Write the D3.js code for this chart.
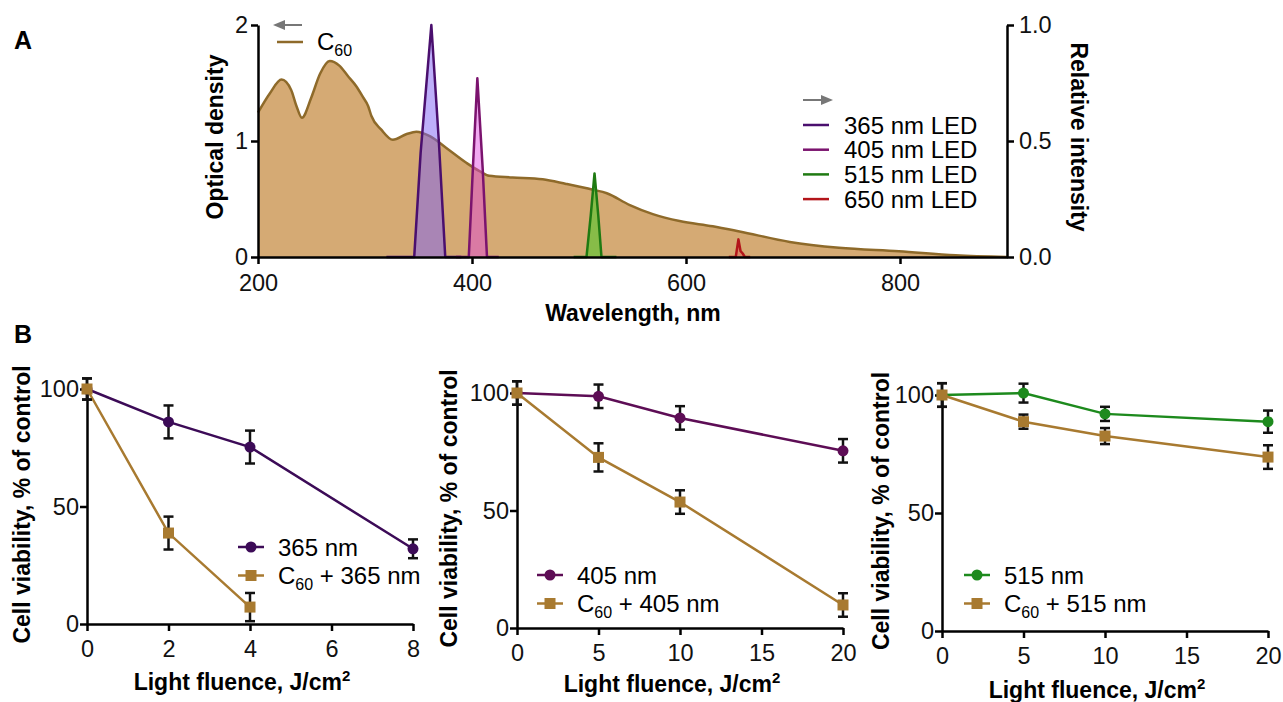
<!DOCTYPE html>
<html>
<head>
<meta charset="utf-8">
<script src="https://cdn.jsdelivr.net/npm/d3@7"></script>
<style>
    body { margin: 0; background: #fff; }
    svg { font-family: "Liberation Sans", Arial, sans-serif; }
</style>
</head>
<body>
<script>
// ---- Panel A data ----
const c60Wavelength = [200, 211, 222, 231, 236, 241, 250, 258, 267, 276, 284, 292, 298, 303, 306, 315, 326, 339, 348, 361, 376, 395, 407, 416, 438, 466, 488, 513, 526, 547, 569, 594, 625, 650, 697, 743, 799, 852, 900]
const c60Density = [1.245, 1.41, 1.53, 1.44, 1.30, 1.20, 1.38, 1.58, 1.69, 1.65, 1.56, 1.47, 1.38, 1.30, 1.215, 1.10, 1.01, 1.06, 1.08, 1.04, 0.94, 0.81, 0.74, 0.70, 0.686, 0.67, 0.63, 0.58, 0.55, 0.45, 0.37, 0.31, 0.265, 0.22, 0.13, 0.08, 0.05, 0.015, 0]

const ledNames = ["365 nm LED", "405 nm LED", "515 nm LED", "650 nm LED"]
const ledWavelength365 = [320, 346, 352, 362, 369, 375, 390]
const ledIntensity365 = [0, 0, 0.45, 1.0, 0.5, 0, 0]
const ledWavelength405 = [385, 397, 401, 405, 410, 414, 425]
const ledIntensity405 = [0, 0, 0.4, 0.77, 0.38, 0, 0]
const ledWavelength515 = [495, 507, 511, 514.5, 518, 521, 535]
const ledIntensity515 = [0, 0, 0.18, 0.36, 0.18, 0, 0]
const ledWavelength650 = [640, 646.5, 649, 651, 653, 655, 660]
const ledIntensity650 = [0, 0, 0.076, 0.025, 0.015, 0, 0]

// ---- Panel B data ----
const fluence365 = [0, 2, 4, 8]
const viability365 = [100, 86, 75.3, 32]
const error365 = [4.5, 7, 7, 4]
const fluenceC60365 = [0, 2, 4]
const viabilityC60365 = [100, 38.7, 7.2]
const errorC60365 = [4.5, 7, 6]

const fluence405 = [0, 5, 10, 20]
const viability405 = [100, 98.6, 89.4, 75.4]
const error405 = [5, 5, 5, 5]
const viabilityC60405 = [100, 72.6, 53.6, 9.8]
const errorC60405 = [5, 6, 5, 5]

const fluence515 = [0, 5, 10, 20]
const viability515 = [100, 100.8, 92, 88.7]
const error515 = [5, 4, 3, 4.7]
const viabilityC60515 = [100, 88.7, 82.6, 73.7]
const errorC60515 = [5, 3, 3.4, 5]

const ticksB8 = [0, 2, 4, 6, 8]
const ticksB20 = [0, 5, 10, 15, 20]
const ticksViability = [0, 50, 100]

// Colours
const c60Line = "#8e6a2a"
const c60Fill = "#d5aa74"
const c60Marker = "#a87a30"

const width = 1283
const height = 702
const tickFont = 23.5
const legendFont = 24

let svg = d3.select("body")
    .append("svg")
    .attr("width", width)
    .attr("height", height)

// Helper for axis styling
let styleAxis = (g) => {
    g.attr("font-family", null).attr("font-size", null)
    g.select(".domain").attr("stroke", "#000").attr("stroke-width", 2.5)
    g.selectAll(".tick line").attr("stroke", "#000").attr("stroke-width", 2.5)
    g.selectAll(".tick text").style("font-size", tickFont + "px").attr("fill", "#111")
}

// Helper for C60 labels with subscript
let c60Text = (sel, rest) => {
    sel.append("tspan").text("C")
    sel.append("tspan").text("60").style("font-size", "16px").attr("dy", 6)
    if (rest) sel.append("tspan").text(rest).attr("dy", -6)
}

// ================= Panel A =================
let xA = d3.scaleLinear().domain([200, 900]).range([258, 1007])
let yA = d3.scaleLinear().domain([0, 2]).range([257, 25])
let yA2 = d3.scaleLinear().domain([0, 1]).range([257, 25])

// C60 absorption area
let c60Data = c60Wavelength.map((w, i) => ({ w: w, v: c60Density[i] }))
svg.append("path")
    .datum(c60Data)
    .attr("d", d3.area()
        .x(d => xA(d.w))
        .y0(yA(0))
        .y1(d => yA(d.v))
        .curve(d3.curveMonotoneX))
    .attr("fill", c60Fill)
svg.append("path")
    .datum(c60Data)
    .attr("d", d3.line()
        .x(d => xA(d.w))
        .y(d => yA(d.v))
        .curve(d3.curveMonotoneX))
    .attr("fill", "none")
    .attr("stroke", c60Line)
    .attr("stroke-width", 2.5)

// LED spectra
const leds = [
    { w: ledWavelength365, v: ledIntensity365, stroke: "#4a0f6e", fill: "#7d5ff5", op: 0.5 },
    { w: ledWavelength405, v: ledIntensity405, stroke: "#7b136e", fill: "#e040e0", op: 0.45 },
    { w: ledWavelength515, v: ledIntensity515, stroke: "#1f7a12", fill: "#6cc23a", op: 0.75 },
    { w: ledWavelength650, v: ledIntensity650, stroke: "#b3151a", fill: "#e05050", op: 0.4 }
]
leds.forEach(led => {
    let pts = led.w.map((w, i) => ({ w: w, v: led.v[i] }))
    svg.append("path")
        .datum(pts)
        .attr("d", d3.area().x(d => xA(d.w)).y0(yA2(0)).y1(d => yA2(d.v)))
        .attr("fill", led.fill)
        .attr("fill-opacity", led.op)
    svg.append("path")
        .datum(pts)
        .attr("d", d3.line().x(d => xA(d.w)).y(d => yA2(d.v)))
        .attr("fill", "none")
        .attr("stroke", led.stroke)
        .attr("stroke-width", 2.5)
        .attr("stroke-linejoin", "round")
})

// Axes A
svg.append("g")
    .attr("transform", `translate(0, ${yA(0)})`)
    .call(d3.axisBottom(xA).tickValues([200, 400, 600, 800]).tickFormat(d3.format("d")).tickSize(7).tickSizeOuter(0).tickPadding(10))
    .call(styleAxis)
svg.append("g")
    .attr("transform", `translate(${xA(200)}, 0)`)
    .call(d3.axisLeft(yA).tickValues([0, 1, 2]).tickFormat(d3.format("d")).tickSize(7).tickSizeOuter(0).tickPadding(3))
    .call(styleAxis)
svg.append("g")
    .attr("transform", `translate(${xA(900)}, 0)`)
    .call(d3.axisRight(yA2).tickValues([0, 0.5, 1]).tickFormat(d3.format(".1f")).tickSize(7).tickSizeOuter(0).tickPadding(5))
    .call(styleAxis)

// Axis titles A
svg.append("text")
    .attr("transform", "translate(223, 137) rotate(-90)")
    .attr("text-anchor", "middle")
    .style("font-size", "23px").style("font-weight", "bold")
    .text("Optical density")
svg.append("text")
    .attr("transform", "translate(1071, 137) rotate(90)")
    .attr("text-anchor", "middle")
    .style("font-size", "23px").style("font-weight", "bold")
    .text("Relative intensity")
svg.append("text")
    .attr("x", 633).attr("y", 321)
    .attr("text-anchor", "middle")
    .style("font-size", "23px").style("font-weight", "bold")
    .text("Wavelength, nm")

// Panel letters
svg.append("text").attr("x", 14).attr("y", 49).style("font-size", "25px").style("font-weight", "bold").text("A")
svg.append("text").attr("x", 14).attr("y", 343).style("font-size", "25px").style("font-weight", "bold").text("B")

// Legend arrows
let arrow = (x1, x2, y) => {
    svg.append("line").attr("x1", x1).attr("x2", x2).attr("y1", y).attr("y2", y)
        .attr("stroke", "#777").attr("stroke-width", 2)
    let dir = x2 > x1 ? 1 : -1
    svg.append("path")
        .attr("d", `M${x2 + dir * 3},${y} L${x2 - dir * 9},${y - 5} L${x2 - dir * 9},${y + 5} Z`)
        .attr("fill", "#777")
}
arrow(302, 276, 25)
arrow(803, 830, 100)

// C60 legend
svg.append("line").attr("x1", 277).attr("x2", 303).attr("y1", 42).attr("y2", 42)
    .attr("stroke", c60Line).attr("stroke-width", 2.5)
svg.append("text").attr("x", 317).attr("y", 50).style("font-size", legendFont + "px").call(c60Text)

// LED legend
ledNames.forEach((name, i) => {
    let y = 125 + i * 24.7
    svg.append("line").attr("x1", 803).attr("x2", 829).attr("y1", y).attr("y2", y)
        .attr("stroke", leds[i].stroke).attr("stroke-width", 2.5)
    svg.append("text").attr("x", 844).attr("y", y + 8.5).style("font-size", legendFont + "px").text(name)
})

// ================= Panel B =================
let panelB = (cfg) => {
    let x = d3.scaleLinear().domain([0, cfg.xMax]).range([cfg.x0, cfg.x1])
    let y = d3.scaleLinear().domain([0, 100]).range([cfg.y0, cfg.y1])

    svg.append("g")
        .attr("transform", `translate(0, ${cfg.y0})`)
        .call(d3.axisBottom(x).tickValues(cfg.ticks).tickSize(7).tickSizeOuter(0).tickPadding(9))
        .call(styleAxis)
    svg.append("g")
        .attr("transform", `translate(${cfg.x0}, 0)`)
        .call(d3.axisLeft(y).tickValues(ticksViability).tickSize(7).tickSizeOuter(0).tickPadding(1))
        .call(styleAxis)

    cfg.series.forEach(s => {
        let pts = s.x.map((v, i) => ({ x: v, y: s.y[i], e: s.e[i] }))
        svg.append("path")
            .datum(pts)
            .attr("d", d3.line().x(d => x(d.x)).y(d => y(d.y)))
            .attr("fill", "none")
            .attr("stroke", s.color)
            .attr("stroke-width", 2.5)
        // error bars
        let eb = svg.selectAll(null).data(pts).enter().append("g")
        eb.append("line")
            .attr("x1", d => x(d.x)).attr("x2", d => x(d.x))
            .attr("y1", d => y(d.y - d.e)).attr("y2", d => y(d.y + d.e))
            .attr("stroke", "#111").attr("stroke-width", 2.5)
        eb.append("line")
            .attr("x1", d => x(d.x) - 5).attr("x2", d => x(d.x) + 5)
            .attr("y1", d => y(d.y - d.e)).attr("y2", d => y(d.y - d.e))
            .attr("stroke", "#111").attr("stroke-width", 2.5)
        eb.append("line")
            .attr("x1", d => x(d.x) - 5).attr("x2", d => x(d.x) + 5)
            .attr("y1", d => y(d.y + d.e)).attr("y2", d => y(d.y + d.e))
            .attr("stroke", "#111").attr("stroke-width", 2.5)
        // markers
        if (s.shape === "circle") {
            svg.selectAll(null).data(pts).enter().append("circle")
                .attr("cx", d => x(d.x)).attr("cy", d => y(d.y)).attr("r", 5.5)
                .attr("fill", s.color)
        } else {
            svg.selectAll(null).data(pts).enter().append("rect")
                .attr("x", d => x(d.x) - 5.5).attr("y", d => y(d.y) - 5.5)
                .attr("width", 11).attr("height", 11)
                .attr("fill", s.color)
        }
    })

    // legend
    cfg.series.forEach((s, i) => {
        let ly = cfg.legendY + i * 28.5
        svg.append("line").attr("x1", cfg.legendX).attr("x2", cfg.legendX + 26).attr("y1", ly).attr("y2", ly)
            .attr("stroke", s.color).attr("stroke-width", 2.5)
        if (s.shape === "circle") {
            svg.append("circle").attr("cx", cfg.legendX + 13).attr("cy", ly).attr("r", 5.5).attr("fill", s.color)
        } else {
            svg.append("rect").attr("x", cfg.legendX + 7.5).attr("y", ly - 5.5).attr("width", 11).attr("height", 11).attr("fill", s.color)
        }
        let t = svg.append("text").attr("x", cfg.legendX + 40).attr("y", ly + 8.5).style("font-size", legendFont + "px")
        if (s.c60) t.call(c60Text, " + " + s.label)
        else t.text(s.label)
    })

    // titles
    svg.append("text")
        .attr("transform", `translate(${cfg.yTitleX}, ${(cfg.y0 + cfg.y1) / 2 - 2}) rotate(-90)`)
        .attr("text-anchor", "middle")
        .style("font-size", "23px").style("font-weight", "bold")
        .text("Cell viability, % of control")
    let xt = svg.append("text")
        .attr("x", (cfg.x0 + cfg.x1) / 2 - 8).attr("y", cfg.xTitleY)
        .attr("text-anchor", "middle")
        .style("font-size", "23px").style("font-weight", "bold")
    xt.append("tspan").text("Light fluence, J/cm")
    xt.append("tspan").text("2").style("font-size", "15px").attr("dy", -9)
}

panelB({
    xMax: 8, ticks: ticksB8, x0: 87, x1: 413, y0: 624, y1: 389,
    legendX: 238, legendY: 547, yTitleX: 30, xTitleY: 690,
    series: [
        { x: fluence365, y: viability365, e: error365, color: "#3c0b57", shape: "circle", label: "365 nm" },
        { x: fluenceC60365, y: viabilityC60365, e: errorC60365, color: c60Marker, shape: "square", label: "365 nm", c60: true }
    ]
})
panelB({
    xMax: 20, ticks: ticksB20, x0: 517, x1: 843, y0: 628, y1: 393,
    legendX: 537, legendY: 575, yTitleX: 457, xTitleY: 692,
    series: [
        { x: fluence405, y: viability405, e: error405, color: "#5d0d55", shape: "circle", label: "405 nm" },
        { x: fluence405, y: viabilityC60405, e: errorC60405, color: c60Marker, shape: "square", label: "405 nm", c60: true }
    ]
})
panelB({
    xMax: 20, ticks: ticksB20, x0: 942, x1: 1268, y0: 631, y1: 395,
    legendX: 964, legendY: 575, yTitleX: 889, xTitleY: 698,
    series: [
        { x: fluence515, y: viability515, e: error515, color: "#1d8a1d", shape: "circle", label: "515 nm" },
        { x: fluence515, y: viabilityC60515, e: errorC60515, color: c60Marker, shape: "square", label: "515 nm", c60: true }
    ]
})
</script>
</body>
</html>
